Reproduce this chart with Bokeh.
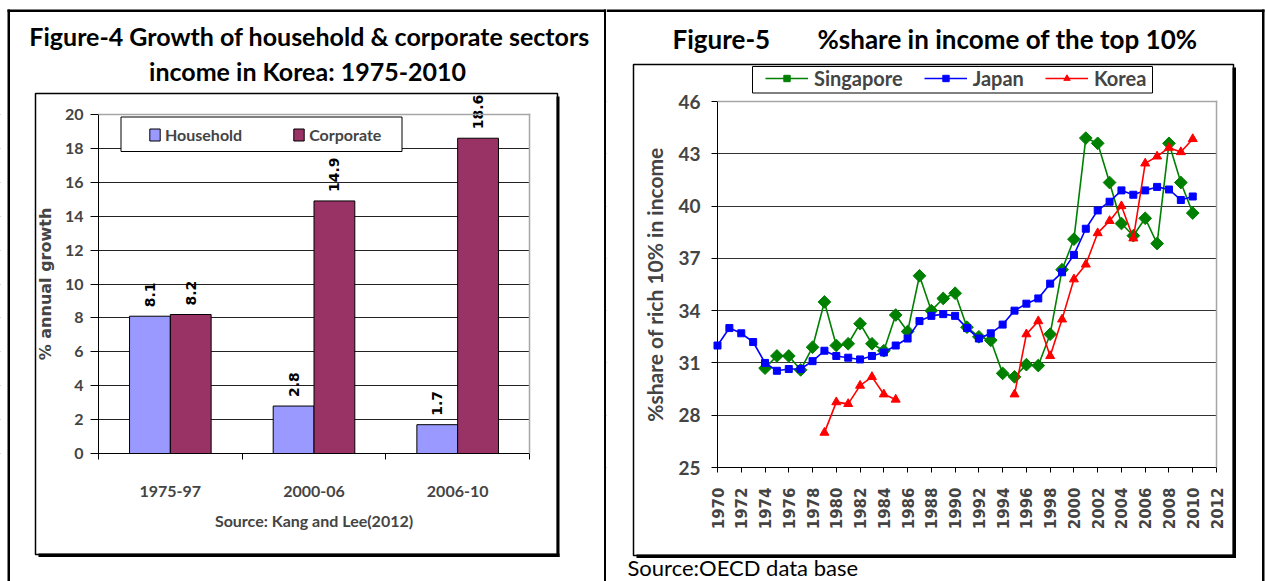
import math
from bokeh.plotting import figure
from bokeh.models import (ColumnDataSource, FixedTicker, Range1d, LabelSet, Label,
                          BoxAnnotation, Legend, LegendItem)
from bokeh.layouts import row
from bokeh.transform import dodge
from bokeh.core.properties import value
from bokeh.embed import file_html
from bokeh.resources import INLINE

nan = float("nan")

# ---------------- Figure-4 data ----------------
periods = ["1975-97", "2000-06", "2006-10"]
household = [8.1, 2.8, 1.7]
corporate = [8.2, 14.9, 18.6]
growth_ticks = [0, 2, 4, 6, 8, 10, 12, 14, 16, 18, 20]

# ---------------- Figure-5 data ----------------
years = list(range(1970, 2011))
singapore = [nan, nan, nan, nan,
             30.7, 31.4, 31.4, 30.6, 31.9, 34.5, 32.0, 32.1, 33.25, 32.1,
             31.7, 33.75, 32.8, 36.0, 34.0, 34.7, 35.0, 33.05, 32.5, 32.3,
             30.4, 30.2, 30.9, 30.85, 32.65, 36.35, 38.1, 43.9, 43.6, 41.35,
             39.0, 38.3, 39.3, 37.85, 43.6, 41.35, 39.6]
japan = [32.0, 33.0, 32.7, 32.2, 31.0, 30.55, 30.65, 30.65, 31.1, 31.7,
         31.4, 31.3, 31.2, 31.4, 31.6, 32.0, 32.4, 33.4, 33.7, 33.8,
         33.7, 33.0, 32.4, 32.7, 33.2, 34.0, 34.4, 34.7, 35.55, 36.2,
         37.2, 38.7, 39.75, 40.25, 40.9, 40.65, 40.9, 41.1, 40.95, 40.35,
         40.55]
korea = [nan, nan, nan, nan, nan, nan, nan, nan, nan,
         27.0, 28.75, 28.65, 29.7, 30.2, 29.2, 28.9,
         nan, nan, nan, nan, nan, nan, nan, nan, nan,
         29.2, 32.65, 33.4, 31.4, 33.5, 35.8, 36.65, 38.45, 39.15, 40.0,
         38.15, 42.45, 42.85, 43.35, 43.1, 43.85]
year_ticks = list(range(1970, 2013, 2))
share_ticks = [25, 28, 31, 34, 37, 40, 43, 46]

H = 581
CAL = "Lato"
VER = "DejaVu Sans"


def extend_range(d0, d1, p0, p1, c0, c1):
    """Range whose [d0, d1] lands on pixels [p0, p1] of a canvas [c0, c1]."""
    unit = (p1 - p0) / (d1 - d0)
    return Range1d(d0 - (p0 - c0) / unit, d1 + (c1 - p1) / unit)


class Page:
    def __init__(self, p, cx0):
        self.p, self.cx0 = p, cx0

    def box(self, X0, Y0, X1, Y1, fill=None, line=None, lw=1.0, level="annotation"):
        b = BoxAnnotation(
            left=X0 - self.cx0, right=X1 - self.cx0, top=H - Y0, bottom=H - Y1,
            left_units="screen", right_units="screen",
            top_units="screen", bottom_units="screen",
            fill_color=fill or "white", fill_alpha=1 if fill else 0,
            line_color=line or "black", line_alpha=1 if line else 0,
            line_width=lw, level=level)
        self.p.add_layout(b)

    def text(self, X, Y, s, size, bold=True, font=CAL, align="left",
             baseline="middle"):
        self.p.add_layout(Label(
            x=X - self.cx0, y=H - Y, x_units="screen", y_units="screen",
            text=s, text_font=font, text_font_size=size,
            text_font_style="bold" if bold else "normal",
            text_color="black", text_align=align, text_baseline=baseline))


def style_fig(p):
    p.min_border = 0
    p.background_fill_color = "white"
    p.border_fill_color = "white"
    p.outline_line_color = None
    p.xgrid.visible = False


# ======================= LEFT : Figure-4 =======================
W1 = 606
PL1, PR1, PT1, PB1 = 98, 529, 114, 453          # plot-area pixels
p1 = figure(width=W1, height=H,
            x_range=extend_range(-0.5, len(periods) - 0.5, PL1, PR1, 0, W1),
            y_range=extend_range(0, 20, H - PB1, H - PT1, 0, H),
            output_backend="svg", toolbar_location=None)
style_fig(p1)
g1 = Page(p1, 0)

src1 = ColumnDataSource(dict(
    x=list(range(len(periods))), household=household, corporate=corporate,
    h_txt=[str(v) for v in household], c_txt=[str(v) for v in corporate]))

p1.ygrid.ticker = FixedTicker(ticks=growth_ticks)
p1.ygrid.grid_line_color = "#222222"
p1.ygrid.grid_line_width = 1
# keep grid lines inside the plot area
g1.box(0, 0, PL1 - 0.5, H, fill="white", level="underlay")
g1.box(PR1 + 0.5, 0, W1, H, fill="white", level="underlay")

bw = 0.284
r_h = p1.vbar(x=dodge("x", -bw / 2), top="household", width=bw, source=src1,
              fill_color="#9999FF", line_color="black", line_width=1)
r_c = p1.vbar(x=dodge("x", bw / 2), top="corporate", width=bw, source=src1,
              fill_color="#993366", line_color="black", line_width=1)

for fld, ycol, off in (("h_txt", "household", -bw / 2), ("c_txt", "corporate", bw / 2)):
    p1.add_layout(LabelSet(x=dodge("x", off), y=ycol, text=fld, source=src1,
                           angle=math.pi / 2, text_align="left",
                           text_baseline="middle", y_offset=9,
                           text_font=value(VER), text_font_style="bold",
                           text_font_size="14px", text_color="black"))

ya = p1.yaxis[0]
ya.fixed_location = -0.5
ya.bounds = (0, 20)
ya.ticker = FixedTicker(ticks=growth_ticks)
ya.axis_line_color = "black"
ya.major_tick_out = 8
ya.major_tick_in = 0
ya.minor_tick_out = 0
ya.major_label_text_font = CAL
ya.major_label_text_font_style = "bold"
ya.major_label_text_font_size = "16px"
ya.major_label_standoff = 7
ya.axis_label = "% annual growth"
ya.axis_label_text_font = VER
ya.axis_label_text_font_style = "bold"
ya.axis_label_text_font_size = "16px"
ya.axis_label_standoff = 7

xa = p1.xaxis[0]
xa.fixed_location = 0
xa.bounds = (-0.5, len(periods) - 0.5)
xa.ticker = FixedTicker(ticks=list(range(len(periods))),
                        minor_ticks=[i - 0.5 for i in range(len(periods) + 1)])
xa.major_label_overrides = {i: c for i, c in enumerate(periods)}
xa.axis_line_color = "black"
xa.major_tick_out = 0
xa.major_tick_in = 0
xa.minor_tick_out = 6
xa.minor_tick_in = 0
xa.minor_tick_line_color = "black"
xa.major_label_text_font = CAL
xa.major_label_text_font_style = "bold"
xa.major_label_text_font_size = "16px"
xa.major_label_standoff = 26
xa.axis_label = "Source: Kang and Lee(2012)"
xa.axis_label_text_font = CAL
xa.axis_label_text_font_style = "bold"
xa.axis_label_text_font_size = "16px"
xa.axis_label_standoff = 11

# plot-area top/right border (grey)
g1.box(PL1, PT1 - 0.75, PR1 + 0.75, PT1 + 0.75, fill="#a6a6a6")
g1.box(PR1 - 0.75, PT1 - 0.75, PR1 + 0.75, PB1, fill="#a6a6a6")

# table borders and chart box
g1.box(7, 9, 9.5, H, fill="black")
g1.box(7, 9, W1, 11.5, fill="black")
g1.box(603.5, 9, 606, H, fill="black")
g1.box(35, 93, 557, 554, line="black", lw=1.5)
g1.box(556, 96, 559, 556.5, fill="black")
g1.box(38, 553, 559, 556.5, fill="black")

# legend box + legend
g1.box(120.5, 116.5, 401.5, 151, fill="white", line="black", lw=1)
leg1 = Legend(items=[LegendItem(label="Household", renderers=[r_h]),
                     LegendItem(label="Corporate", renderers=[r_c])],
              orientation="horizontal", location=(143, H - 149),
              padding=5, margin=0, spacing=50, label_standoff=4,
              glyph_width=13, glyph_height=15,
              border_line_alpha=0, background_fill_alpha=0,
              label_text_font=CAL, label_text_font_style="bold",
              label_text_font_size="16px")
p1.add_layout(leg1)

g1.text(309, 35, "Figure-4 Growth of household & corporate sectors", "25px",
        align="center")
g1.text(307, 70, "income in Korea: 1975-2010", "25px", align="center")

# ======================= RIGHT : Figure-5 =======================
X2 = 606
W2 = 1266 - X2
PL2, PR2, PT2, PB2 = 717, 1216, 101, 467
p2 = figure(width=W2, height=H,
            x_range=extend_range(1970, 2012, PL2, PR2, X2, X2 + W2),
            y_range=extend_range(25, 46, H - PB2, H - PT2, 0, H),
            output_backend="svg", toolbar_location=None)
style_fig(p2)
g2 = Page(p2, X2)

p2.ygrid.ticker = FixedTicker(ticks=share_ticks)
p2.ygrid.grid_line_color = "#333333"
p2.ygrid.grid_line_width = 1
g2.box(X2, 0, PL2 - 0.5, H, fill="white", level="underlay")
g2.box(PR2 + 0.5, 0, X2 + W2, H, fill="white", level="underlay")

src2 = ColumnDataSource(dict(year=years, sg=singapore, jp=japan, kr=korea))

l_sg = p2.line("year", "sg", source=src2, line_color="#008000", line_width=1.6)
m_sg = p2.scatter("year", "sg", source=src2, marker="square", angle=math.pi / 4,
                  size=9, fill_color="#008000", line_color="#008000")
l_jp = p2.line("year", "jp", source=src2, line_color="#0000FF", line_width=1.6)
m_jp = p2.scatter("year", "jp", source=src2, marker="square", size=7,
                  fill_color="#0000FF", line_color="#0000FF")
l_kr = p2.line("year", "kr", source=src2, line_color="#FF0000", line_width=1.6)
m_kr = p2.scatter("year", "kr", source=src2, marker="triangle", size=9,
                  fill_color="#FF0000", line_color="#FF0000")

ya2 = p2.yaxis[0]
ya2.fixed_location = 1970
ya2.bounds = (25, 46)
ya2.ticker = FixedTicker(ticks=share_ticks)
ya2.axis_line_color = "black"
ya2.major_tick_out = 6
ya2.major_tick_in = 0
ya2.minor_tick_out = 0
ya2.major_label_text_font = CAL
ya2.major_label_text_font_style = "bold"
ya2.major_label_text_font_size = "19px"
ya2.major_label_standoff = 11
ya2.axis_label = "%share of rich 10% in income"
ya2.axis_label_text_font = CAL
ya2.axis_label_text_font_style = "bold"
ya2.axis_label_text_font_size = "21px"
ya2.axis_label_standoff = 8

xa2 = p2.xaxis[0]
xa2.fixed_location = 25
xa2.bounds = (1970, 2012)
xa2.ticker = FixedTicker(ticks=year_ticks)
xa2.axis_line_color = "black"
xa2.major_tick_out = 5
xa2.major_tick_in = 0
xa2.minor_tick_out = 0
xa2.major_label_orientation = math.pi / 2
xa2.major_label_text_font = VER
xa2.major_label_text_font_style = "bold"
xa2.major_label_text_font_size = "15px"
xa2.major_label_standoff = 15

g2.box(PL2, PT2 - 0.75, PR2 + 0.75, PT2 + 0.75, fill="#a6a6a6")
g2.box(PR2 - 0.75, PT2 - 0.75, PR2 + 0.75, PB2, fill="#a6a6a6")

# table borders and chart box
g2.box(X2, 9, 1264, 11.5, fill="black")
g2.box(1261.5, 9, 1264, H, fill="black")
g2.box(633, 64, 1233, 555, line="black", lw=1.5)
g2.box(1232, 67, 1235.5, 557.5, fill="black")
g2.box(636, 554, 1235.5, 557.5, fill="black")

# legend box + legend
g2.box(752, 66, 1152, 92.5, fill="white", line="black", lw=1)
leg2 = Legend(items=[LegendItem(label="Singapore", renderers=[l_sg, m_sg]),
                     LegendItem(label="Japan", renderers=[l_jp, m_jp]),
                     LegendItem(label="Korea", renderers=[l_kr, m_kr])],
              orientation="horizontal", location=(761 - X2, H - 94),
              padding=4, margin=0, spacing=21, label_standoff=6,
              glyph_width=43, glyph_height=16,
              border_line_alpha=0, background_fill_alpha=0,
              label_text_font=CAL, label_text_font_style="bold",
              label_text_font_size="20px")
p2.add_layout(leg2)

g2.text(672, 38, "Figure-5", "26px")
g2.text(817, 38, "%share in income of the top 10%", "26px")
g2.text(627, 567, "Source:OECD data base", "22px", bold=False)

layout = row(p1, p2)
open("out.html", "w").write(file_html(layout, INLINE))
